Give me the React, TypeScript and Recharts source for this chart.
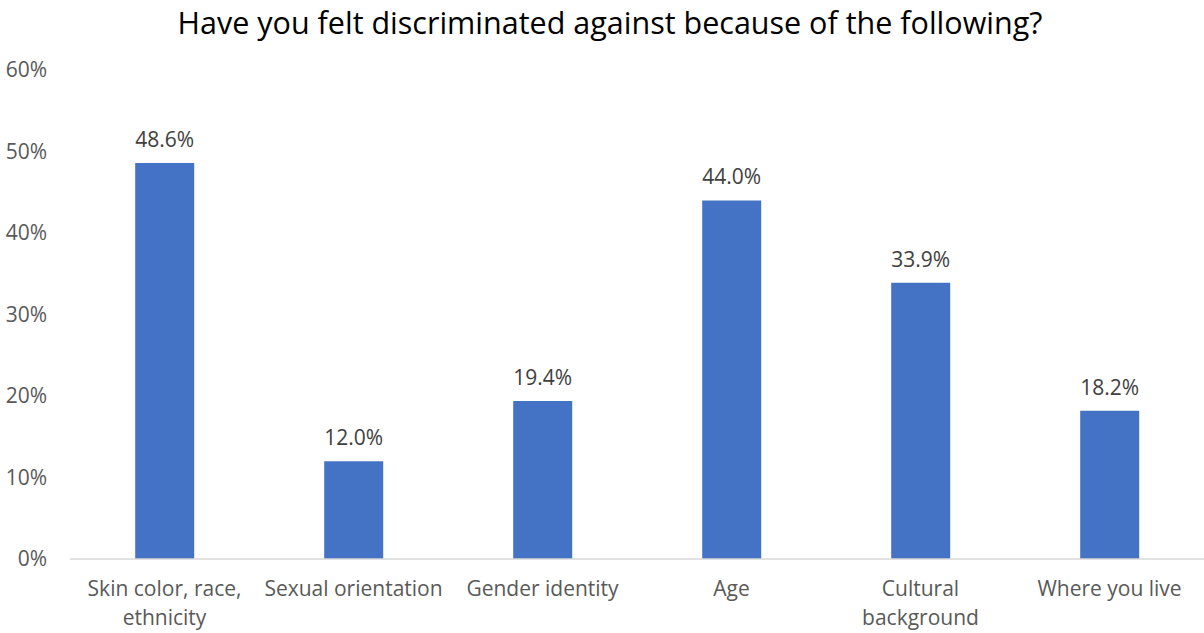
import React from 'react';
import { BarChart, Bar, XAxis, YAxis, LabelList } from 'recharts';

// Catégories (\n = retour à la ligne du libellé) et valeurs en %
const categories = [
  'Skin color, race,\nethnicity',
  'Sexual orientation',
  'Gender identity',
  'Age',
  'Cultural\nbackground',
  'Where you live',
];
const values = [48.6, 12.0, 19.4, 44.0, 33.9, 18.2];
const yTicks = [0, 10, 20, 30, 40, 50, 60];

const title = 'Have you felt discriminated against because of the following?';

const data = categories.map((name, i) => ({ name, value: values[i] }));

const FONT = '"Open Sans", "Noto Sans", sans-serif';

const CategoryTick = (props: any) => {
  const { x, y, payload } = props;
  const lines = String(payload.value).split('\n');
  return (
    <g transform={`translate(${x},${y})`}>
      {lines.map((line, i) => (
        <text
          key={i}
          x={0}
          y={i * 29}
          dy={29}
          textAnchor="middle"
          fill="#595959"
          fontSize={21}
          fontFamily={FONT}
        >
          {line}
        </text>
      ))}
    </g>
  );
};

const App: React.FC = () => {
  return (
    <div style={{ position: 'absolute', left: 0, top: 0, width: 1204, height: 633, background: '#fff' }}>
      <div
        style={{
          position: 'absolute',
          top: 0,
          left: 0,
          width: 1220,
          textAlign: 'center',
          fontFamily: FONT,
          fontSize: 30.5,
          lineHeight: '44px',
          color: '#000',
        }}
      >
        {title}
      </div>
      <BarChart
        width={1204}
        height={633}
        data={data}
        margin={{ top: 70, right: 0, left: 0, bottom: 0 }}
        barCategoryGap="34.5%"
      >
        <XAxis
          dataKey="name"
          axisLine={{ stroke: '#d9d9d9', strokeWidth: 1.5 }}
          tickLine={false}
          tick={<CategoryTick />}
          interval={0}
          height={74}
        />
        <YAxis
          domain={[0, 60]}
          ticks={yTicks}
          tickFormatter={(v: number) => `${v}%`}
          axisLine={false}
          tickLine={false}
          tickSize={0}
          tickMargin={23}
          width={70}
          tick={{ fill: '#595959', fontSize: 21, fontFamily: FONT }}
        />
        <Bar dataKey="value" fill="#4472C4" isAnimationActive={false}>
          <LabelList
            dataKey="value"
            position="top"
            offset={16}
            formatter={(v: any) => `${Number(v).toFixed(1)}%`}
            style={{ fill: '#404040', fontSize: 21, fontFamily: FONT }}
          />
        </Bar>
      </BarChart>
    </div>
  );
};

export default App;
